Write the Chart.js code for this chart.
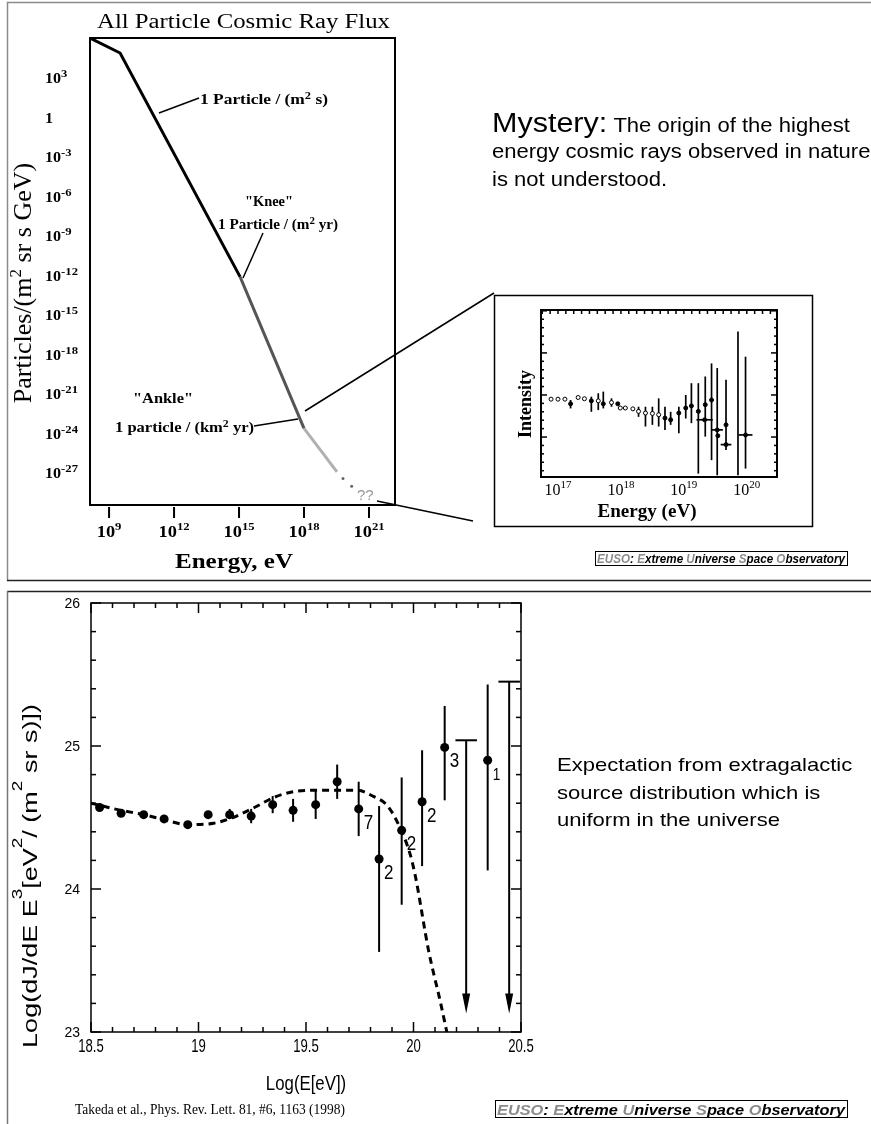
<!DOCTYPE html>
<html>
<head>
<meta charset="utf-8">
<script src="https://cdn.jsdelivr.net/npm/chart.js@4.4.1/dist/chart.umd.min.js"></script>
<style>
  body { margin: 0; background: #fff; }
  #page { position: relative; width: 871px; height: 1124px; overflow: hidden; }
  canvas { position: absolute; left: 0; top: 0; }
</style>
</head>
<body>
<div id="page">
  <canvas id="flux" width="871" height="1124"></canvas>
  <canvas id="inset" width="871" height="1124"></canvas>
  <canvas id="spectrum" width="871" height="1124"></canvas>
</div>
<script>
// all particle flux (log10 E in eV, log10 flux)
let fluxLogE = [8.12, 9.51, 15.05, 18.0, 19.52];
let fluxLogJ = [6.04, 4.90, -12.1, -23.6, -26.9];
let tailLogE = [19.8, 20.2];
let tailLogJ = [-27.4, -28.0];
let fluxXTicks = [9, 12, 15, 18, 21];
let fluxYTicks = [3, 0, -3, -6, -9, -12, -15, -18, -21, -24, -27];

// inset: intensity vs energy
let insetLogE = [16.89, 17.00, 17.11, 17.20, 17.32, 17.42, 17.53, 17.64, 17.72, 17.85, 17.95, 17.99, 18.07, 18.19, 18.28, 18.39, 18.50, 18.60, 18.70, 18.79, 18.92, 19.03, 19.12, 19.23, 19.34, 19.44, 19.33, 19.53, 19.54, 19.67, 19.67, 19.86, 19.98];
let insetVal = [0.90, 0.90, 0.90, 0.79, 0.94, 0.91, 0.86, 0.86, 0.79, 0.82, 0.79, 0.69, 0.69, 0.67, 0.61, 0.57, 0.56, 0.53, 0.45, 0.41, 0.57, 0.69, 0.74, 0.61, 0.77, 0.88, 0.41, 0.17, 0.03, 0.29, -0.18, null, 0.05];
let insetLo = [null, null, null, 0.68, null, null, 0.60, 0.64, 0.68, 0.72, null, null, null, null, 0.48, 0.25, 0.29, 0.25, 0.17, 0.29, 0.09, 0.44, 0.33, -0.87, 0.01, -0.55, null, -0.91, null, -0.31, null, -0.91, -0.75];
let insetHi = [null, null, null, 0.88, null, null, 0.96, 1.04, 1.08, 0.92, null, null, null, null, 0.72, 0.72, 0.72, 0.92, 0.72, 0.60, 0.72, 1.00, 1.28, 1.28, 1.44, 1.75, null, 1.64, null, 1.36, null, 2.51, 1.91];
let insetXErr = [0, 0, 0, 0, 0, 0, 0, 0, 0, 0, 0, 0, 0, 0, 0, 0, 0, 0, 0, 0, 0, 0, 0, 0, 0, 0, 0.13, 0.09, 0, 0, 0.085, 0, 0.11];
let insetOpen = [1, 1, 1, 0, 1, 1, 0, 1, 0, 1, 0, 1, 1, 1, 1, 1, 1, 1, 0, 0, 0, 0, 0, 0, 0, 0, 0, 0, 0, 0, 0, 0, 0];
let insetXTicks = [17, 18, 19, 20];

// AGASA E^3 spectrum, Takeda et al. 1998
let agasaLogE = [18.54, 18.64, 18.745, 18.84, 18.95, 19.045, 19.145, 19.245, 19.345, 19.44, 19.545, 19.645, 19.745, 19.84, 19.945, 20.04, 20.145, 20.345];
let agasaLogJ = [24.57, 24.53, 24.52, 24.49, 24.45, 24.52, 24.52, 24.51, 24.59, 24.55, 24.59, 24.75, 24.56, 24.21, 24.41, 24.61, 24.99, 24.90];
let agasaLo = [24.55, 24.51, 24.50, 24.47, 24.43, 24.50, 24.49, 24.46, 24.53, 24.47, 24.49, 24.63, 24.37, 23.56, 23.89, 24.16, 24.62, 24.13];
let agasaHi = [24.59, 24.55, 24.54, 24.51, 24.47, 24.54, 24.56, 24.56, 24.65, 24.63, 24.69, 24.87, 24.75, 24.58, 24.78, 24.97, 25.28, 25.43];
let agasaCounts = ['', '', '', '', '', '', '', '', '', '', '', '', '7', '2', '2', '2', '3', '1'];
let limitLogE = [20.245, 20.445];
let limitTop = [25.04, 25.45];
let limitTip = [23.13, 23.13];
let modelLogE = [18.5, 18.64, 18.745, 18.85, 18.95, 19.07, 19.16, 19.26, 19.35, 19.44, 19.55, 19.65, 19.74, 19.81, 19.88, 19.94, 19.985, 20.01, 20.07, 20.125, 20.155];
let modelLogJ = [24.60, 24.55, 24.52, 24.48, 24.45, 24.46, 24.50, 24.57, 24.64, 24.68, 24.69, 24.69, 24.69, 24.65, 24.58, 24.42, 24.24, 24.08, 23.57, 23.21, 23.0];
let specXTicks = [18.5, 19, 19.5, 20, 20.5];
let specYTicks = [23, 24, 25, 26];

const SERIF = '"Liberation Serif", "Times New Roman", serif';
const SANS = '"Liberation Sans", Arial, sans-serif';

// text made of pieces, some of them raised (superscripts)
function richText(ctx, parts, x, y, o) {
  let w = 0;
  parts.forEach(p => { ctx.font = p[1] ? (o.supFont || o.font) : o.font; w += ctx.measureText(p[0]).width; });
  let sx = o.width ? o.width / w : (o.sx || 1);
  ctx.save();
  ctx.translate(x, y);
  if (o.rotate) ctx.rotate(o.rotate);
  ctx.scale(sx, o.sy || 1);
  let pos = o.align === 'center' ? -w / 2 : o.align === 'right' ? -w : 0;
  ctx.textAlign = 'left';
  ctx.textBaseline = 'alphabetic';
  parts.forEach(p => {
    ctx.font = p[1] ? (o.supFont || o.font) : o.font;
    ctx.fillStyle = p[2] || o.color || '#000';
    ctx.fillText(p[0], pos, p[1] ? -(o.rise || 0) : 0);
    pos += ctx.measureText(p[0]).width;
  });
  ctx.restore();
}

function seg(ctx, x1, y1, x2, y2) {
  ctx.beginPath(); ctx.moveTo(x1, y1); ctx.lineTo(x2, y2); ctx.stroke();
}

function eusoLabel(ctx, x, y, w, h, size) {
  ctx.fillStyle = '#fff';
  ctx.fillRect(x, y, w, h);
  ctx.strokeStyle = '#000'; ctx.lineWidth = 1;
  ctx.strokeRect(x + 0.5, y + 0.5, w - 1, h - 1);
  const g = '#8c8c8c';
  richText(ctx, [['EUSO', 0, g], [': ', 0], ['E', 0, g], ['xtreme ', 0], ['U', 0, g], ['niverse ', 0],
    ['S', 0, g], ['pace ', 0], ['O', 0, g], ['bservatory', 0]],
    x + 2, y + h - 3, { font: 'italic bold ' + size + 'px ' + SANS, width: w - 5 });
}

const fluxDecor = {
  id: 'fluxDecor',
  afterDraw(chart) {
    const { ctx, chartArea: a, scales: { x, y } } = chart;
    ctx.save();
    // panel outline
    ctx.strokeStyle = '#8a8a8a'; ctx.lineWidth = 1.5;
    ctx.beginPath(); ctx.moveTo(871, 2.5); ctx.lineTo(7.5, 2.5); ctx.lineTo(7.5, 581); ctx.stroke();
    ctx.strokeStyle = '#222';
    seg(ctx, 7, 580.5, 871, 580.5);

    ctx.strokeStyle = '#000'; ctx.lineWidth = 2;
    ctx.strokeRect(a.left, a.top, a.right - a.left, a.bottom - a.top);
    fluxXTicks.forEach(e => {
      const px = x.getPixelForValue(e);
      seg(ctx, px, a.bottom + 2, px, a.bottom + 13);
      richText(ctx, [['10'], [String(e), 1]], px, 537,
        { font: 'bold 16px ' + SERIF, supFont: 'bold 11px ' + SERIF, rise: 7, align: 'center', sx: 1.15 });
    });
    fluxYTicks.forEach(v => {
      const py = y.getPixelForValue(v);
      const parts = v === 0 ? [['1']] : [['10'], [String(v), 1]];
      richText(ctx, parts, 45, py + 5, { font: 'bold 14px ' + SERIF, supFont: 'bold 11px ' + SERIF, rise: 6, sx: 1.15 });
    });

    richText(ctx, [['All Particle Cosmic Ray Flux']], 243.5, 28, { font: '20px ' + SERIF, width: 293, align: 'center' });
    richText(ctx, [['Particles/(m'], ['2', 1], [' sr s GeV)']], 31, 283,
      { font: '26px ' + SERIF, supFont: '17px ' + SERIF, rise: 10, align: 'center', rotate: -Math.PI / 2 });
    richText(ctx, [['Energy, eV']], 234, 568, { font: 'bold 22px ' + SERIF, width: 118, align: 'center' });

    // annotations
    const af = 'bold 14px ' + SERIF, sf = 'bold 10px ' + SERIF;
    richText(ctx, [['1 Particle / (m'], ['2', 1], [' s)']], 200, 104, { font: af, supFont: sf, rise: 5, width: 128 });
    richText(ctx, [['"Knee"']], 269, 206, { font: af, width: 48, align: 'center' });
    richText(ctx, [['1 Particle / (m'], ['2', 1], [' yr)']], 218, 229, { font: af, supFont: sf, rise: 5, width: 120 });
    richText(ctx, [['"Ankle"']], 163, 403, { font: af, width: 60, align: 'center' });
    richText(ctx, [['1 particle / (km'], ['2', 1], [' yr)']], 115, 432, { font: af, supFont: sf, rise: 5, width: 139 });
    ctx.lineWidth = 1.5;
    seg(ctx, 159, 113, 199, 98);
    seg(ctx, 263, 233, 243, 278);
    seg(ctx, 254, 426, 298, 419);
    // pointers to the inset
    seg(ctx, 305, 411, 494, 293);
    seg(ctx, 377, 501, 473, 521);
    richText(ctx, [['??']], 357, 500, { font: '15px ' + SANS, color: '#999' });

    // statement
    richText(ctx, [['Mystery:'], [' The origin of the highest', 1]], 492, 132,
      { font: '27px ' + SANS, supFont: '19.5px ' + SANS, rise: 0, sx: 1.13 });
    richText(ctx, [['energy cosmic rays observed in nature']], 492, 158, { font: '19.5px ' + SANS, sx: 1.13 });
    richText(ctx, [['is not understood.']], 492, 186, { font: '19.5px ' + SANS, sx: 1.13 });

    eusoLabel(ctx, 595, 551, 253, 15, 12);
    ctx.restore();
  }
};

new Chart(document.getElementById('flux'), {
  type: 'line',
  data: {
    datasets: [
      {
        data: fluxLogE.map((e, i) => ({ x: e, y: fluxLogJ[i] })),
        borderColor: '#000', borderWidth: 3, pointRadius: 0,
        segment: { borderColor: c => ['#000', '#000', '#555', '#b0b0b0'][c.p0DataIndex] }
      },
      {
        data: tailLogE.map((e, i) => ({ x: e, y: tailLogJ[i] })),
        showLine: false, pointRadius: 1.5, backgroundColor: '#666', borderWidth: 0
      }
    ]
  },
  options: {
    responsive: false, animation: false, devicePixelRatio: 1, events: [],
    layout: { padding: { left: 90, top: 38, right: 871 - 395, bottom: 1124 - 505 } },
    plugins: { legend: { display: false }, tooltip: { enabled: false } },
    scales: {
      x: { type: 'linear', min: 8.12, max: 22.2, display: false },
      y: { type: 'linear', min: -29.42, max: 6.04, display: false }
    }
  },
  plugins: [fluxDecor]
});

const insetDecor = {
  id: 'insetDecor',
  beforeDatasetsDraw(chart) {
    const { ctx, scales: { x, y } } = chart;
    ctx.save();
    ctx.strokeStyle = '#000'; ctx.lineWidth = 1.7;
    insetLogE.forEach((e, i) => {
      const px = x.getPixelForValue(e);
      if (insetLo[i] !== null) seg(ctx, px, y.getPixelForValue(insetLo[i]), px, y.getPixelForValue(insetHi[i]));
      if (insetXErr[i] > 0) {
        const py = y.getPixelForValue(insetVal[i]);
        seg(ctx, x.getPixelForValue(e - insetXErr[i]), py, x.getPixelForValue(e + insetXErr[i]), py);
      }
    });
    ctx.restore();
  },
  afterDraw(chart) {
    const { ctx, chartArea: a, scales: { x, y } } = chart;
    ctx.save();
    ctx.strokeStyle = '#000'; ctx.lineWidth = 1.5;
    ctx.strokeRect(494.5, 295.5, 318, 231);
    ctx.lineWidth = 2;
    ctx.strokeRect(a.left, a.top, a.right - a.left, a.bottom - a.top);
    ctx.lineWidth = 1.5;
    for (let k = Math.ceil(x.min * 8); k <= Math.floor(x.max * 8); k++) {
      const px = x.getPixelForValue(k / 8);
      seg(ctx, px, a.top, px, a.top + 4);
    }
    for (let k = Math.ceil(y.min * 5); k <= Math.floor(y.max * 5); k++) {
      const py = y.getPixelForValue(k / 5);
      const len = k % 5 === 0 ? 6 : 3;
      seg(ctx, a.left, py, a.left + len, py);
      seg(ctx, a.right, py, a.right - len, py);
    }
    insetXTicks.forEach(e => {
      richText(ctx, [['10'], [String(e), 1]], x.getPixelForValue(e), 495,
        { font: '16px ' + SERIF, supFont: '11px ' + SERIF, rise: 7, align: 'center' });
    });
    richText(ctx, [['Energy (eV)']], 647, 517, { font: 'bold 18px ' + SERIF, width: 99, align: 'center' });
    richText(ctx, [['Intensity']], 531, 404, { font: 'bold 18px ' + SERIF, align: 'center', rotate: -Math.PI / 2 });
    ctx.restore();
  }
};

new Chart(document.getElementById('inset'), {
  type: 'scatter',
  data: {
    datasets: [{
      data: insetLogE.map((e, i) => ({ x: e, y: insetVal[i] })),
      pointRadius: 2, borderWidth: 1, borderColor: '#000',
      backgroundColor: insetOpen.map(o => o ? '#fff' : '#000')
    }]
  },
  options: {
    responsive: false, animation: false, devicePixelRatio: 1, events: [],
    layout: { padding: { left: 541, top: 310, right: 871 - 777, bottom: 1124 - 477 } },
    plugins: { legend: { display: false }, tooltip: { enabled: false } },
    scales: {
      x: { type: 'linear', min: 16.73, max: 20.48, display: false },
      y: { type: 'linear', min: -0.95, max: 3.02, display: false }
    }
  },
  plugins: [insetDecor]
});

const specDecor = {
  id: 'specDecor',
  beforeDatasetsDraw(chart) {
    const { ctx, scales: { x, y } } = chart;
    ctx.save();
    ctx.strokeStyle = '#000'; ctx.fillStyle = '#000'; ctx.lineWidth = 2;
    agasaLogE.forEach((e, i) => {
      const px = x.getPixelForValue(e);
      seg(ctx, px, y.getPixelForValue(agasaLo[i]), px, y.getPixelForValue(agasaHi[i]));
    });
    limitLogE.forEach((e, i) => {
      const px = x.getPixelForValue(e);
      const top = y.getPixelForValue(limitTop[i]);
      const tip = y.getPixelForValue(limitTip[i]);
      seg(ctx, px, top, px, tip - 16);
      seg(ctx, x.getPixelForValue(e - 0.05), top, x.getPixelForValue(e + 0.05), top);
      ctx.beginPath();
      ctx.moveTo(px - 4, tip - 20); ctx.lineTo(px + 4, tip - 20); ctx.lineTo(px, tip); ctx.closePath();
      ctx.fill();
    });
    ctx.restore();
  },
  afterDraw(chart) {
    const { ctx, chartArea: a, scales: { x, y } } = chart;
    ctx.save();
    // panel outline
    ctx.strokeStyle = '#222'; ctx.lineWidth = 1.5;
    seg(ctx, 7, 591.5, 871, 591.5);
    ctx.strokeStyle = '#777';
    seg(ctx, 7.5, 591, 7.5, 1124);

    ctx.strokeStyle = '#000'; ctx.lineWidth = 1.5;
    ctx.strokeRect(a.left, a.top, a.right - a.left, a.bottom - a.top);
    for (let k = 185; k <= 205; k++) {
      const px = x.getPixelForValue(k / 10);
      const len = k % 5 === 0 ? 10 : 5;
      seg(ctx, px, a.bottom, px, a.bottom - len);
      seg(ctx, px, a.top, px, a.top + len);
    }
    for (let k = 115; k <= 130; k++) {
      const py = y.getPixelForValue(k / 5);
      const len = k % 5 === 0 ? 10 : 5;
      seg(ctx, a.left, py, a.left + len, py);
      seg(ctx, a.right, py, a.right - len, py);
    }
    specXTicks.forEach(v => {
      richText(ctx, [[String(v)]], x.getPixelForValue(v), 1052, { font: '17.5px ' + SANS, sx: 0.75, align: 'center' });
    });
    specYTicks.forEach(v => {
      richText(ctx, [[String(v)]], 80, y.getPixelForValue(v) + 5, { font: '14px ' + SANS, align: 'right' });
    });
    richText(ctx, [['Log(E[eV])']], 306, 1090, { font: '21px ' + SANS, sx: 0.8, align: 'center' });
    richText(ctx, [['Log(dJ/dE E'], ['3', 1], ['[eV'], ['2', 1], ['/ (m'], ['2', 1], [' sr s)])']], 37, 876,
      { font: '27px ' + SANS, supFont: '19px ' + SANS, rise: 20, sy: 0.75, align: 'center', rotate: -Math.PI / 2 });

    // event counts next to the highest energy points
    agasaCounts.forEach((c, i) => {
      if (!c) return;
      const px = x.getPixelForValue(agasaLogE[i]), py = y.getPixelForValue(agasaLogJ[i]);
      const size = c === '1' ? 16 : 20;
      richText(ctx, [[c]], px + 5, py + 20, { font: size + 'px ' + SANS, sx: 0.85 });
    });

    richText(ctx, [['Expectation from extragalactic']], 557, 771, { font: '19px ' + SANS, sx: 1.16 });
    richText(ctx, [['source distribution which is']], 557, 799, { font: '19px ' + SANS, sx: 1.16 });
    richText(ctx, [['uniform in the universe']], 557, 826, { font: '19px ' + SANS, sx: 1.16 });

    richText(ctx, [['Takeda et al., Phys. Rev. Lett. 81, #6, 1163 (1998)']], 75, 1114, { font: '14px ' + SERIF, width: 270 });
    eusoLabel(ctx, 495, 1100, 353, 18, 15);
    ctx.restore();
  }
};

new Chart(document.getElementById('spectrum'), {
  type: 'scatter',
  data: {
    datasets: [
      {
        data: modelLogE.map((e, i) => ({ x: e, y: modelLogJ[i] })),
        showLine: true, borderColor: '#000', borderWidth: 3, borderDash: [7, 5],
        pointRadius: 0, cubicInterpolationMode: 'monotone'
      },
      {
        data: agasaLogE.map((e, i) => ({ x: e, y: agasaLogJ[i] })),
        pointRadius: 4.5, backgroundColor: '#000', borderColor: '#000', borderWidth: 0
      }
    ]
  },
  options: {
    responsive: false, animation: false, devicePixelRatio: 1, events: [],
    layout: { padding: { left: 91, top: 603, right: 871 - 521, bottom: 1124 - 1032 } },
    plugins: { legend: { display: false }, tooltip: { enabled: false } },
    scales: {
      x: { type: 'linear', min: 18.5, max: 20.5, display: false },
      y: { type: 'linear', min: 23, max: 26, display: false }
    }
  },
  plugins: [specDecor]
});
</script>
</body>
</html>
